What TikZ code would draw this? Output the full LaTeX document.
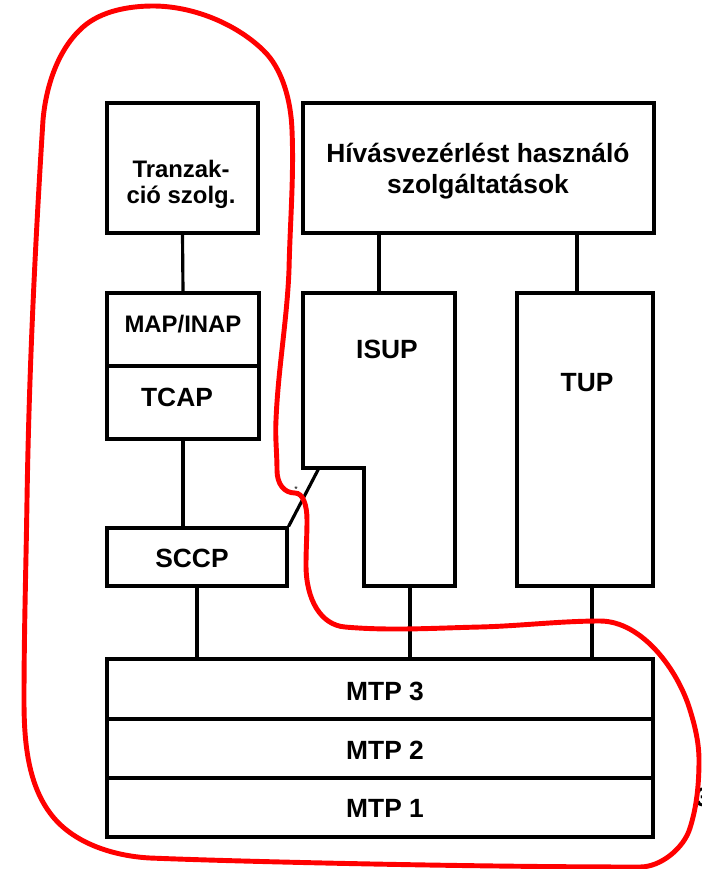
\documentclass[tikz,border=0pt]{standalone}
\usepackage{fontspec}
\setmainfont{Liberation Sans}
\usetikzlibrary{fit}
\begin{document}
\begin{tikzpicture}[x=0.02cm,y=-0.02cm, line width=1.8pt,
  box/.style={draw, inner sep=0pt, line join=miter},
  lbl/.style={font=\fontsize{15}{18}\selectfont\bfseries, align=center, inner sep=0pt},
  slbl/.style={font=\fontsize{13.6}{14.8}\selectfont\bfseries, align=center, inner sep=0pt},
  ring/.style={draw=red, line width=2.8pt}]
\useasboundingbox (0,0) rectangle (701,869);
% boxes
\node[box, fit={(107,103) (258,233)}] (tranz) {};
\node[slbl] (tranzt) at (181,184) {Tranzak-\\ció szolg.};
\node[box, fit={(303,103) (654,233)}] (hivas) {};
\node[lbl] (hivast) at (478,171) {Hívásvezérlést használó\\szolgáltatások};
\node[box, fit={(107,293) (259,366)}] (map) {};
\node[slbl] (mapt) at (183,324) {MAP/INAP};
\node[box, fit={(107,366) (259,439)}] (tcap) {};
\node[lbl] (tcapt) at (177,397) {TCAP};
\node[box, fit={(107,528) (287,586)}] (sccp) {};
\node[lbl] (sccpt) at (192,558) {SCCP};
\draw[line join=miter] (303,293) -- (455,293) -- (455,586) -- (364,586) -- (364,468) -- (303,468) -- cycle;
\coordinate (isupT) at (379,293);
\coordinate (isupB) at (410,586);
\coordinate (isupN) at (319,468);
\node[lbl] (isupt) at (387,349) {ISUP};
\node[box, fit={(517,293) (653,586)}] (tup) {};
\coordinate (tupT) at (577,293);
\coordinate (tupB) at (592,586);
\node[lbl] (tupt) at (587,383) {TUP};
\node[box, fit={(107,659) (653,719)}] (mtp3) {};
\node[lbl] (mtp3t) at (385,691) {MTP 3};
\node[box, fit={(107,719) (653,778)}] (mtp2) {};
\node[lbl] (mtp2t) at (385,750) {MTP 2};
\node[box, fit={(107,778) (653,837)}] (mtp1) {};
\node[lbl] (mtp1t) at (385,808) {MTP 1};
% connectors
\draw (tranz.south) -- (map.north);
\draw (tcap.south) -- (tcap.south |- sccp.north);
\draw (sccp.south) -- (sccp.south |- mtp3.north);
\draw (hivas.south -| isupT) -- (isupT);
\draw (hivas.south -| tupT) -- (tupT);
\draw (isupB) -- (isupB |- mtp3.north);
\draw (tupB) -- (tupB |- mtp3.north);
\draw (sccp.north east) -- (isupN);
% stray marks
\node[font=\tiny, inner sep=0pt] (star) at (296,489) {*};
\node[lbl, anchor=west] (three) at (694,797) {3};
% red loop
\draw[ring] (153,6)
 .. controls (192,6) and (235,23) .. (263,50)
 .. controls (283,69) and (291,102) .. (292,130)
 .. controls (294,177) and (290,223) .. (289,270)
 .. controls (287,320) and (278,370) .. (276,420)
 .. controls (275,437) and (277,453) .. (277,470)
 .. controls (277,484) and (284,493) .. (295,493)
 .. controls (303,493) and (307,505) .. (307,520)
 .. controls (307,535) and (306,550) .. (306,565)
 .. controls (306,600) and (321,625) .. (345,627)
 .. controls (390,631) and (435,628) .. (480,627)
 .. controls (520,626) and (560,621) .. (600,621)
 .. controls (642,621) and (678,670) .. (690,710)
 .. controls (695,726) and (699,743) .. (699,760)
 .. controls (699,783) and (697,806) .. (690,828)
 .. controls (684,848) and (661,867) .. (640,867)
 .. controls (480,867) and (250,862) .. (150,858)
 .. controls (113,856) and (72,843) .. (50,813)
 .. controls (27,782) and (24,739) .. (24,700)
 .. controls (24,633) and (26,567) .. (27,500)
 .. controls (29,373) and (35,247) .. (43,120)
 .. controls (46,86) and (58,49) .. (83,27)
 .. controls (101,11) and (129,6) .. cycle;
\end{tikzpicture}
\end{document}
